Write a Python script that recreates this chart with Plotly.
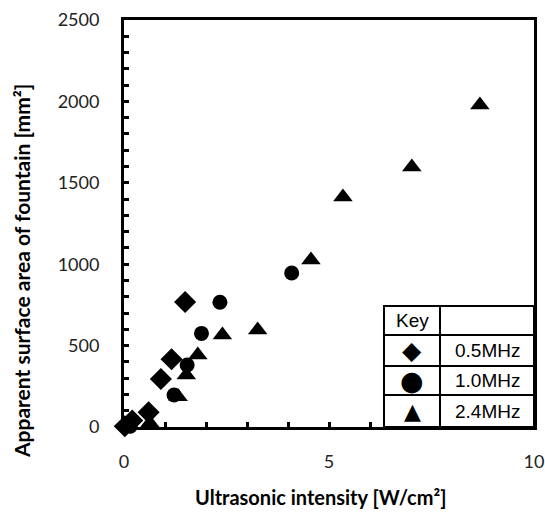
import plotly.graph_objects as go

# Data
x_05 = [0.02, 0.2, 0.6, 0.9, 1.16, 1.49]
y_05 = [5, 40, 90, 295, 416, 768]
x_10 = [0.15, 1.22, 1.54, 1.89, 2.34, 4.09]
y_10 = [5, 197, 381, 575, 766, 946]
x_24 = [0.63, 1.32, 1.52, 1.80, 2.40, 3.26, 4.56, 5.34, 7.02, 8.68]
y_24 = [24, 186, 319, 442, 565, 596, 1026, 1413, 1597, 1978]

series_names = ["0.5MHz", "1.0MHz", "2.4MHz"]
legend_symbols = ["◆", "●", "▲"]

x_ticks = [0, 5, 10]
y_ticks = [0, 500, 1000, 1500, 2000, 2500]

x_title = "<b>Ultrasonic intensity [W/cm²]</b>"
y_title = "<b>Apparent surface area of fountain [mm²]</b>"

fig = go.Figure()
for xs, ys, sym, sz, name in [(x_05, y_05, "diamond", 17, series_names[0]),
                              (x_10, y_10, "circle", 15, series_names[1]),
                              (x_24, y_24, "triangle-up", 17, series_names[2])]:
    fig.add_trace(go.Scatter(x=xs, y=ys, mode="markers", name=name,
                             marker=dict(symbol=sym, size=sz, color="black",
                                         line=dict(width=0)),
                             cliponaxis=False, showlegend=False))

tick_font = dict(family="Lato, sans-serif", size=18, color="#222")
fig.update_xaxes(range=[0, 10], tickvals=x_ticks, ticktext=[str(v) for v in x_ticks],
                 ticks="inside", ticklen=5, tickwidth=3, tickcolor="black",
                 minor=dict(dtick=1, ticks="inside", ticklen=5, tickwidth=3, tickcolor="black"),
                 showline=True, linewidth=3, linecolor="black", mirror=True,
                 showgrid=False, zeroline=False, tickfont=tick_font,
                 ticklabelstandoff=16, automargin=False)
fig.update_yaxes(range=[0, 2500], tickvals=y_ticks, ticktext=[str(v) for v in y_ticks],
                 ticks="inside", ticklen=5, tickwidth=3, tickcolor="black",
                 minor=dict(dtick=100, ticks="inside", ticklen=5, tickwidth=3, tickcolor="black"),
                 showline=True, linewidth=3, linecolor="black", mirror=True,
                 showgrid=False, zeroline=False, tickfont=tick_font,
                 ticklabelstandoff=18, automargin=False)

# Key table (drawn in paper coordinates)
W, H = 545, 513
ml, mr, mt, mb = 124, 11, 20, 86
pw, ph = W - ml - mr, H - mt - mb

def px(xp):
    return (xp - ml) / pw

def py(yp):
    return (H - mb - yp) / ph

tx0, tx1, tx2 = 384, 440, 534
rows = [306, 335, 366, 395, 427]
shapes = [dict(type="rect", xref="paper", yref="paper", x0=px(tx0), x1=px(tx2),
               y0=py(rows[-1]), y1=py(rows[0]), line=dict(color="black", width=2),
               fillcolor="white", layer="above")]
for r in rows[1:-1]:
    shapes.append(dict(type="line", xref="paper", yref="paper", x0=px(tx0), x1=px(tx2),
                       y0=py(r), y1=py(r), line=dict(color="black", width=2)))
shapes.append(dict(type="line", xref="paper", yref="paper", x0=px(tx1), x1=px(tx1),
                   y0=py(rows[-1]), y1=py(rows[0]), line=dict(color="black", width=2)))
fig.update_layout(shapes=shapes)

tfont = dict(family="Liberation Sans, Arial, sans-serif", size=19, color="black")
anns = [dict(text="Key", x=px((tx0 + tx1) / 2), y=py((rows[0] + rows[1]) / 2),
             xref="paper", yref="paper", showarrow=False, font=tfont,
             xanchor="center", yanchor="middle")]
sym_sizes = [25, 27, 22]
for i in range(3):
    yc = py((rows[i + 1] + rows[i + 2]) / 2)
    anns.append(dict(text=legend_symbols[i], x=px((tx0 + tx1) / 2), y=yc,
                     xref="paper", yref="paper", showarrow=False,
                     xanchor="center", yanchor="middle",
                     font=dict(family="DejaVu Sans", size=sym_sizes[i], color="black")))
    anns.append(dict(text=series_names[i], x=px((tx1 + tx2) / 2), y=yc,
                     xref="paper", yref="paper", showarrow=False, font=tfont,
                     xanchor="center", yanchor="middle"))

# axis titles
anns.append(dict(text=x_title, x=px(320), y=py(497), xref="paper", yref="paper",
                 showarrow=False, xanchor="center", yanchor="middle",
                 font=dict(family="Lato, sans-serif", size=20, color="black")))
anns.append(dict(text=y_title, x=px(21), y=py(271), xref="paper", yref="paper",
                 showarrow=False, xanchor="center", yanchor="middle", textangle=-90,
                 font=dict(family="Lato, sans-serif", size=21, color="black")))
fig.update_layout(annotations=anns)

fig.update_layout(width=W, height=H, margin=dict(l=ml, r=mr, t=mt, b=mb, autoexpand=False),
                  plot_bgcolor="white", paper_bgcolor="white", showlegend=False)

fig.write_html("out.html")
